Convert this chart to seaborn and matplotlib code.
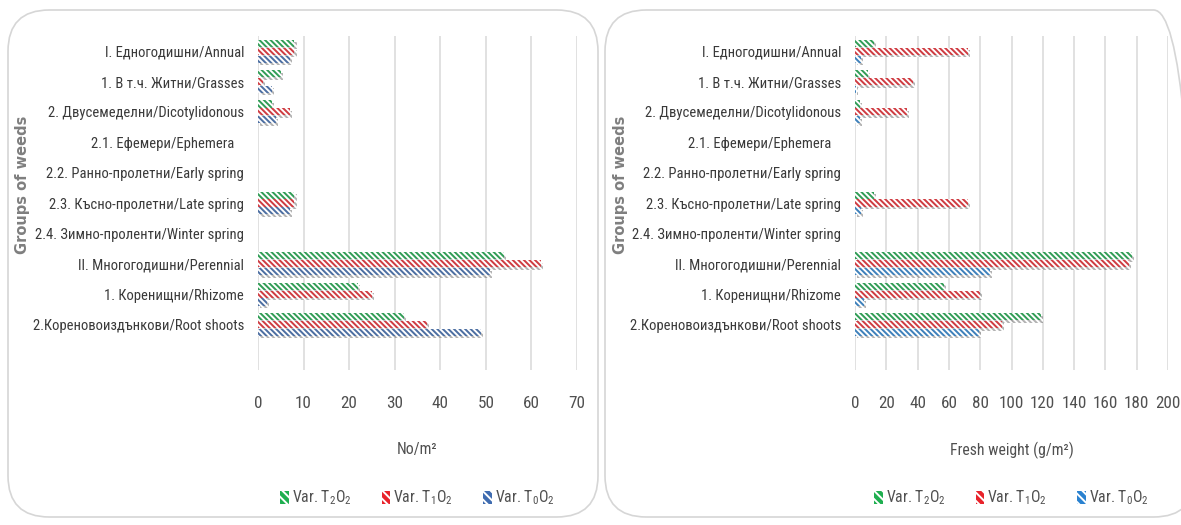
import matplotlib
matplotlib.use("Agg")
import matplotlib.pyplot as plt
import matplotlib.patheffects as pe
from matplotlib import font_manager
from matplotlib.patches import FancyBboxPatch, Patch
import numpy as np
import pandas as pd
import seaborn as sns

# ---- data ---------------------------------------------------------------
categories = [
    "I. Едногодишни/Annual",
    "1. В т.ч. Житни/Grasses",
    "2. Двусемеделни/Dicotylidonous",
    "2.1. Ефемери/Ephemera   ",
    "2.2. Ранно-пролетни/Early spring",
    "2.3. Късно-пролетни/Late spring",
    "2.4. Зимно-проленти/Winter spring",
    "II. Многогодишни/Perennial",
    "1. Коренищни/Rhizome",
    "2.Кореновоиздънкови/Root shoots",
]
variants = ["T2O2", "T1O2", "T0O2"]
variant_labels = [r"Var. T$_2$O$_2$", r"Var. T$_1$O$_2$", r"Var. T$_0$O$_2$"]

# number of weeds per m2
count_t2o2 = [8, 5, 3, 0, 0, 8, 0, 54, 22, 32]
count_t1o2 = [8, 1, 7, 0, 0, 8, 0, 62, 25, 37]
count_t0o2 = [7, 3, 4, 0, 0, 7, 0, 51, 2, 49]

# fresh weight, g per m2
weight_t2o2 = [12, 8, 3, 0, 0, 12, 0, 177, 57, 119]
weight_t1o2 = [72, 37, 33, 0, 0, 72, 0, 175, 80, 94]
weight_t0o2 = [4, 0.5, 3, 0, 0, 4, 0, 86, 6, 79]

count_ticks = [0, 10, 20, 30, 40, 50, 60, 70]
weight_ticks = [0, 20, 40, 60, 80, 100, 120, 140, 160, 180, 200]

# ---- fonts: prefer a narrow face that has a regular/light weight ----------
def _wnum(w):
    if isinstance(w, (int, float)):
        return int(w)
    return font_manager.weight_dict.get(str(w).lower(), 400)


family, weight, base_size = "Liberation Sans", "normal", 9.2
for cand, size in [("Liberation Sans Narrow", 10.5), ("Roboto Condensed", 10.5),
                   ("Carlito", 9.6), ("Lato", 9.4)]:
    entries = [f for f in font_manager.fontManager.ttflist
               if f.name == cand and f.style == "normal"]
    regular = [f for f in entries if 300 <= _wnum(f.weight) <= 500]
    if regular:
        best = min(regular, key=lambda f: abs(_wnum(f.weight) - 400))
        family, weight, base_size = cand, _wnum(best.weight), size
        break

sns.set_theme(style="white")
plt.rcParams["font.family"] = [family, "DejaVu Sans"]
plt.rcParams["font.weight"] = weight
plt.rcParams["mathtext.fontset"] = "custom"
plt.rcParams["mathtext.rm"] = family
plt.rcParams["mathtext.it"] = family
plt.rcParams["hatch.linewidth"] = 1.4

green = "#1FAF50"
red = "#E8232B"
blue_left = "#3F6CB0"
blue_right = "#2A82D0"
grid_c = "#D9D9D9"
label_c = "#3A3A3A"
tick_c = "#505050"


def long_frame(a, b, c):
    rows = []
    for var, vals in zip(variants, [a, b, c]):
        for cat, v in zip(categories, vals):
            rows.append({"group": cat, "variant": var, "value": v})
    return pd.DataFrame(rows)


fig = plt.figure(figsize=(11.81, 5.25), dpi=100)
W, H = 1181, 525


def frac(x0, y0, x1, y1):
    return [x0 / W, 1 - y1 / H, (x1 - x0) / W, (y1 - y0) / H]


# rounded chart-area frames (drawn beneath the axes)
for x0, x1 in [(8, 598), (605, 1195)]:
    fig.patches.append(FancyBboxPatch(
        (x0 / W, 1 - 517 / H), (x1 - x0) / W, (517 - 10) / H,
        boxstyle="round,pad=0,rounding_size=0.035",
        transform=fig.transFigure, facecolor="none",
        edgecolor="#D6D6D6", linewidth=1.2, mutation_aspect=W / H,
        zorder=-5))

panels = [
    dict(rect=frac(258, 36, 577, 370),
         data=long_frame(count_t2o2, count_t1o2, count_t0o2),
         colors=[green, red, blue_left], ticks=count_ticks,
         xlabel="No/m²", ylab_x=23),
    dict(rect=frac(855, 36, 1168, 370),
         data=long_frame(weight_t2o2, weight_t1o2, weight_t0o2),
         colors=[green, red, blue_right], ticks=weight_ticks,
         xlabel="Fresh weight (g/m²)", ylab_x=621),
]

for p in panels:
    ax = fig.add_axes(p["rect"])
    ax.set_facecolor("none")
    sns.barplot(data=p["data"], y="group", x="value", hue="variant",
                order=categories, hue_order=variants, palette=p["colors"],
                orient="h", width=0.78, gap=0.1, legend=False, ax=ax,
                zorder=3)
    for bar in ax.patches:
        bar.set_edgecolor("white")
        bar.set_linewidth(0)
        bar.set_hatch("\\\\\\\\\\\\")
        bar.set_path_effects([
            pe.SimplePatchShadow(offset=(1.5, -1.8), shadow_rgbFace="#555555",
                                 alpha=0.45),
            pe.Normal()])
    ax.set_ylim(10.5, -0.5)
    ax.set_xlim(p["ticks"][0], p["ticks"][-1])
    ax.set_xticks(p["ticks"])
    ax.xaxis.grid(True, color=grid_c, linewidth=1.1, zorder=0)
    ax.yaxis.grid(False)
    ax.set_axisbelow(True)
    for s in ax.spines.values():
        s.set_visible(False)
    ax.tick_params(axis="x", length=0, pad=19, labelsize=base_size + 1.8,
                   labelcolor=tick_c)
    ax.tick_params(axis="y", length=0, pad=10, labelsize=base_size,
                   labelcolor=label_c)
    ax.set_ylabel("")
    ax.set_xlabel(p["xlabel"], fontsize=base_size + 0.8, color=tick_c,
                  labelpad=22)

    handles = [Patch(facecolor=c, edgecolor="white", hatch="\\\\\\\\", linewidth=0)
               for c in p["colors"]]
    leg = ax.legend(handles, variant_labels, loc="center",
                    bbox_to_anchor=(0.5, -(498 - 370) / 334), ncol=3,
                    frameon=False, fontsize=base_size + 0.8, handlelength=0.55,
                    handleheight=0.9, handletextpad=0.2, columnspacing=1.9)
    for t in leg.get_texts():
        t.set_color(tick_c)

    fig.text(p["ylab_x"] / W, 1 - 185 / H, "Groups of weeds", rotation=90,
             ha="center", va="center", fontsize=10.5, fontweight="bold",
             color="#7F7F7F", family="DejaVu Sans")

fig.savefig("out.png", dpi=100)
